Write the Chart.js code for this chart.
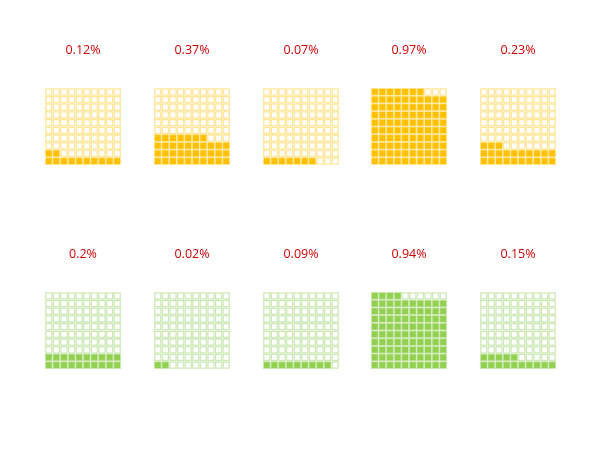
<!DOCTYPE html>
<html>
<head>
<meta charset="utf-8">
<script src="https://cdn.jsdelivr.net/npm/chart.js@4/dist/chart.umd.min.js"></script>
<style>
  body { margin: 0; background: #fff; }
  #wrap { position: relative; width: 600px; height: 450px; }
  .cell { position: absolute; width: 108px; height: 122px; }
</style>
</head>
<body>
<div id="wrap"></div>
<script>
// values
var topLabels = ["0.12%", "0.37%", "0.07%", "0.97%", "0.23%"];
var topValues = [0.12, 0.37, 0.07, 0.97, 0.23];
var bottomLabels = ["0.2%", "0.02%", "0.09%", "0.94%", "0.15%"];
var bottomValues = [0.2, 0.02, 0.09, 0.94, 0.15];

var gridLefts = [45, 153.75, 262.5, 371.25, 480];

function makeWaffle(left, top, label, value, fill, line) {
  var div = document.createElement("div");
  div.className = "cell";
  div.style.left = (left - 16) + "px";
  div.style.top = top + "px";
  var cv = document.createElement("canvas");
  div.appendChild(cv);
  document.getElementById("wrap").appendChild(div);

  // fill from the bottom-left, row by row
  var n = Math.round(value * 100);
  var pts = [], bg = [], rad = [], bw = [];
  for (var i = 0; i < 100; i++) {
    pts.push({ x: i % 10, y: Math.floor(i / 10) });
    bg.push(i < n ? fill : "#ffffff");
    rad.push(i < n ? 4.85 : 4.3);
    bw.push(i < n ? 0.8 : 1.3);
  }

  new Chart(cv, {
    type: "scatter",
    data: {
      datasets: [{
        data: pts,
        pointStyle: "rect",
        pointRadius: rad,
        pointHoverRadius: rad,
        pointBackgroundColor: bg,
        pointBorderColor: line,
        pointBorderWidth: bw,
        clip: false
      }]
    },
    options: {
      responsive: true,
      maintainAspectRatio: false,
      animation: false,
      devicePixelRatio: 1,
      layout: { autoPadding: false, padding: { left: 16, right: 16, top: 0, bottom: 0 } },
      scales: {
        x: { type: "linear", min: -0.5, max: 9.5, display: false },
        y: { type: "linear", min: -0.5, max: 9.5, display: false }
      },
      plugins: {
        legend: { display: false },
        tooltip: { enabled: false },
        title: {
          display: true,
          text: label,
          color: "#D00000",
          font: { family: "'Open Sans'", size: 12.5, weight: "normal", lineHeight: 1.2 },
          padding: { top: 0, bottom: 30 }
        }
      }
    }
  });
}

for (var k = 0; k < 5; k++) {
  makeWaffle(gridLefts[k], 43, topLabels[k], topValues[k], "#FFC000", "#FFE699");
  makeWaffle(gridLefts[k], 247, bottomLabels[k], bottomValues[k], "#92D050", "#CFE8B8");
}
</script>
</body>
</html>
